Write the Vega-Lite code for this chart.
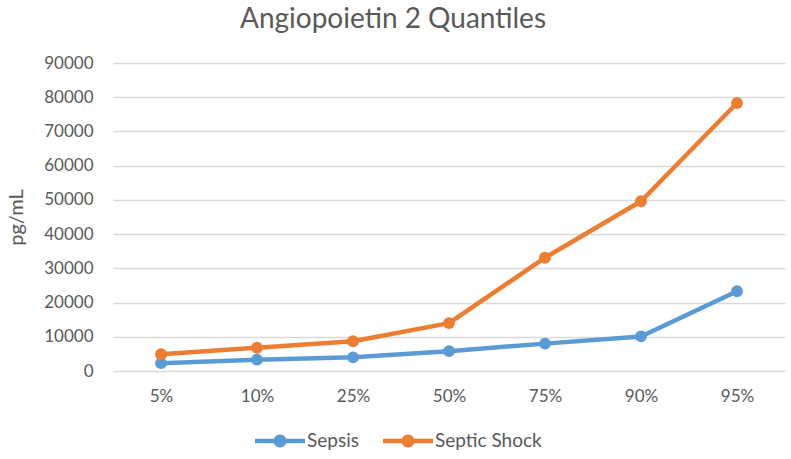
{
  "$schema": "https://vega.github.io/schema/vega-lite/v6.json",
  "width": 672,
  "height": 308,
  "autosize": {"type": "none"},
  "padding": {"left": 113, "top": 63, "right": 6, "bottom": 88},
  "background": "white",
  "title": {
    "text": "Angiopoietin 2 Quantiles",
    "font": "Lato",
    "fontSize": 28,
    "fontWeight": "normal",
    "color": "#595959",
    "anchor": "middle",
    "frame": "group",
    "dx": -56,
    "offset": 20
  },
  "data": {
    "values": [
      {"q": "5%", "series": "Sepsis", "v": 2300},
      {"q": "10%", "series": "Sepsis", "v": 3300},
      {"q": "25%", "series": "Sepsis", "v": 4000},
      {"q": "50%", "series": "Sepsis", "v": 5800},
      {"q": "75%", "series": "Sepsis", "v": 8000},
      {"q": "90%", "series": "Sepsis", "v": 10100},
      {"q": "95%", "series": "Sepsis", "v": 23300},
      {"q": "5%", "series": "Septic Shock", "v": 4900},
      {"q": "10%", "series": "Septic Shock", "v": 6800},
      {"q": "25%", "series": "Septic Shock", "v": 8700},
      {"q": "50%", "series": "Septic Shock", "v": 14000},
      {"q": "75%", "series": "Septic Shock", "v": 33100},
      {"q": "90%", "series": "Septic Shock", "v": 49600},
      {"q": "95%", "series": "Septic Shock", "v": 78300}
    ]
  },
  "encoding": {
    "x": {
      "field": "q", "type": "ordinal",
      "sort": ["5%", "10%", "25%", "50%", "75%", "90%", "95%"],
      "scale": {"paddingInner": 0, "paddingOuter": 0.5},
      "axis": {
        "title": null, "labelAngle": 0, "domain": false, "ticks": false,
        "labelFont": "Lato", "labelFontSize": 17, "labelColor": "#595959",
        "labelPadding": 17
      }
    },
    "y": {
      "field": "v", "type": "quantitative",
      "scale": {"domain": [0, 90000], "nice": false},
      "axis": {
        "title": "pg/mL", "values": [0, 10000, 20000, 30000, 40000, 50000, 60000, 70000, 80000, 90000],
        "format": "d", "domain": false, "ticks": false,
        "labelFont": "Lato", "labelFontSize": 17, "labelColor": "#595959", "labelPadding": 20,
        "titleFont": "Lato", "titleFontSize": 20, "titleFontWeight": "normal", "titleColor": "#595959",
        "titlePadding": 17,
        "gridColor": "#D9D9D9", "gridWidth": 1.3
      }
    },
    "color": {
      "field": "series", "type": "nominal",
      "scale": {"domain": ["Sepsis", "Septic Shock"], "range": ["#5B9BD5", "#ED7D31"]},
      "legend": {
        "title": null, "orient": "none", "direction": "horizontal",
        "legendX": 142, "legendY": 353,
        "symbolType": "M-1,-0.09 L1,-0.09 L1,0.09 L-1,0.09 Z M0.26,0 A0.26,0.26 0 1,1 -0.26,0 A0.26,0.26 0 1,1 0.26,0 Z",
        "symbolSize": 2500, "symbolStrokeWidth": 0, "symbolOpacity": 1,
        "labelFont": "Lato", "labelFontSize": 19, "labelColor": "#595959", "labelOffset": 2,
        "columnPadding": 24
      }
    }
  },
  "layer": [
    {"mark": {"type": "line", "strokeWidth": 4.5, "strokeCap": "round", "strokeJoin": "round"}},
    {"mark": {"type": "circle", "size": 140, "opacity": 1}}
  ],
  "config": {"view": {"stroke": null}}
}
